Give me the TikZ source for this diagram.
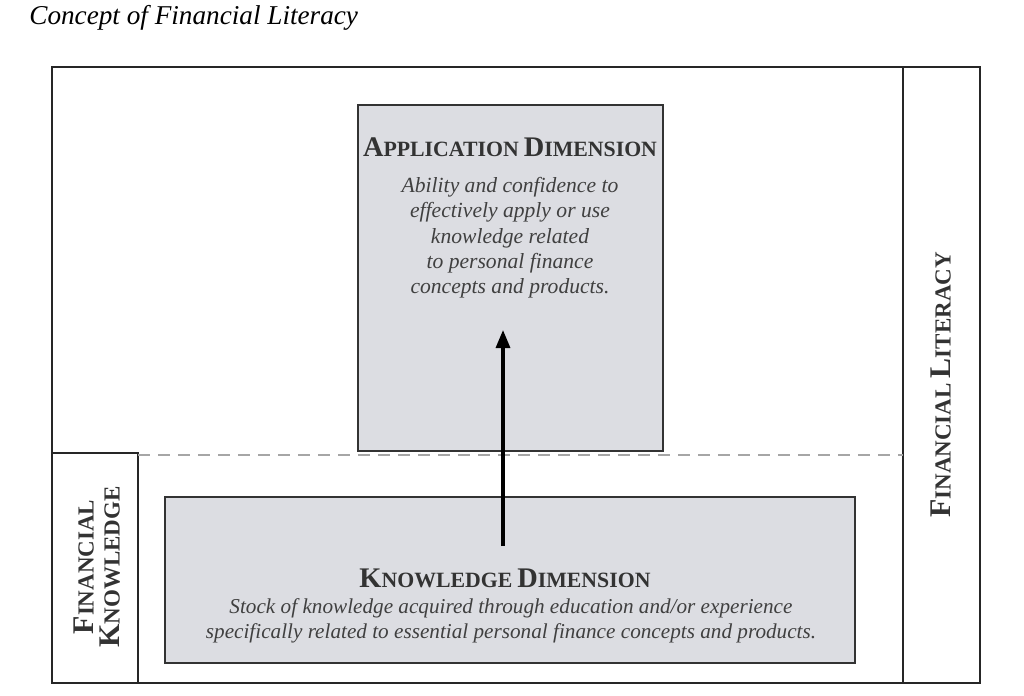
\documentclass[tikz,border=0pt]{standalone}
\usepackage{fontspec}
\setmainfont{Liberation Serif}
\usetikzlibrary{arrows.meta}

\definecolor{boxfill}{RGB}{220,221,226}
\def\capbig{12.5}
\def\capsmall{9.6}
\newcommand{\capsword}[2]{{\fontsize{\capbig}{\capbig}\selectfont #1}{\fontsize{\capsmall}{\capsmall}\selectfont #2}}

\begin{document}
\begin{tikzpicture}[
  x=0.5pt,
  y=-0.5pt,
  frame/.style={draw=black!85, line width=1.1pt},
  dimbox/.style={
    draw=black!80,
    fill=boxfill,
    line width=0.9pt,
    inner sep=0pt
  },
  heading/.style={
    font=\bfseries\def\capbig{14.2}\def\capsmall{10.9},
    text=black!80,
    inner sep=0pt
  },
  body/.style={
    font=\fontsize{10.8}{12.6}\selectfont\itshape,
    align=center,
    text=black!75,
    inner sep=0pt
  },
  sidelabel/.style={
    rotate=90,
    align=center,
    font=\bfseries\def\capbig{15}\def\capsmall{11.5},
    text=black!80,
    inner sep=0pt
  },
  flow/.style={-{Triangle[length=9pt, width=7pt]}, line width=1.6pt, draw=black}
]
\useasboundingbox (0,0) rectangle (1024,696);

% ---------------------------------------------------------------------------
% caption
% ---------------------------------------------------------------------------
\node[font=\fontsize{13.6}{15}\selectfont\itshape, anchor=west, inner sep=0pt]
  (caption) at (29,18) {Concept of Financial Literacy};

% ---------------------------------------------------------------------------
% frames
% ---------------------------------------------------------------------------
\draw[frame] (52,67) rectangle (980,683);
\draw[frame] (903,67) -- (903,683);
\draw[frame] (52,453) rectangle (138,683);
\draw[dashed, draw=gray!70, line width=0.7pt, dash pattern=on 6pt off 4pt]
  (138,455) -- (903,455);

% ---------------------------------------------------------------------------
% dimension boxes
% ---------------------------------------------------------------------------
\node[dimbox, minimum width=152.5pt, minimum height=173pt]
  (appbox) at (510.5,278) {};
\node[dimbox, minimum width=345pt, minimum height=83pt]
  (knowbox) at (510,580) {};

\node[heading] (apphead) at (510,147) {\capsword{A}{PPLICATION} \capsword{D}{IMENSION}};
\node[body, anchor=north] (apptext) at (510,177)
  {Ability and confidence to\\effectively apply or use\\knowledge related\\to personal finance\\concepts and products.};

\node[heading] (knowhead) at (505,578) {\capsword{K}{NOWLEDGE} \capsword{D}{IMENSION}};
\node[body, font=\fontsize{10.6}{12.8}\selectfont\itshape, anchor=north] (knowtext) at (511,598)
  {Stock of knowledge acquired through education and/or experience\\specifically related to essential personal finance concepts and products.};

% ---------------------------------------------------------------------------
% side labels
% ---------------------------------------------------------------------------
\node[sidelabel] (knowlabel) at (97,567)
  {\capsword{F}{INANCIAL}\\[1pt]\capsword{K}{NOWLEDGE}};
\node[sidelabel] (litlabel) at (941,385)
  {\capsword{F}{INANCIAL} \capsword{L}{ITERACY}};

% ---------------------------------------------------------------------------
% flow arrow
% ---------------------------------------------------------------------------
\coordinate (arrowfoot) at (503,546);
\coordinate (arrowtip) at (503,330);
\draw[flow] (arrowfoot) -- (arrowtip);
\end{tikzpicture}
\end{document}
